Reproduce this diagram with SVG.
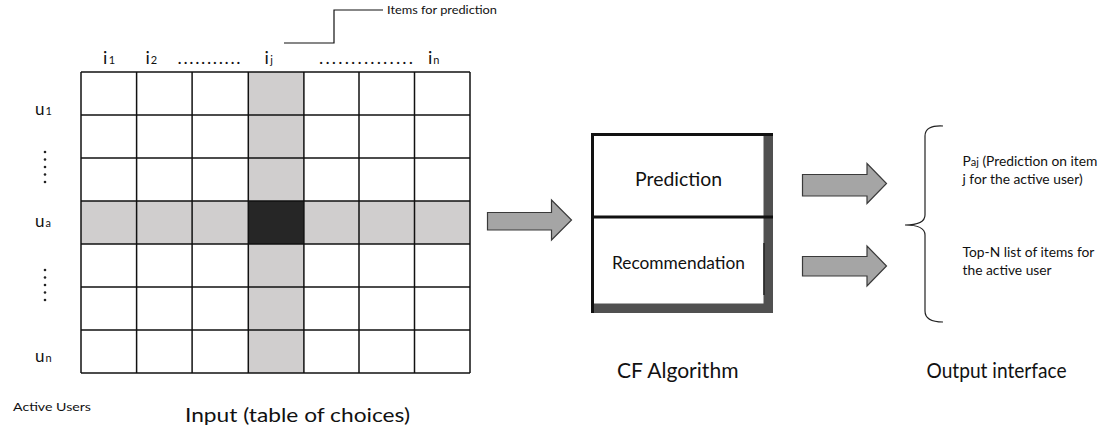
<svg xmlns="http://www.w3.org/2000/svg" width="1104" height="430" viewBox="0 0 1104 430">
<style>
text{font-family:Lato,"Liberation Sans",Arial,sans-serif;fill:#111}
.hl{fill:#d0cece}
.dk{fill:#262626}
.arrow{fill:#a5a5a5;stroke:#3a3a3a;stroke-width:1.2}
.dot{fill:#222}
.hdr{font-size:18px}
.sub{font-size:11px}
.row{font-size:17px}
.small{font-size:13.8px}
</style>
<defs>
<g id="vdots"><circle cx="0" cy="0" r="1.3" class="dot"/><circle cx="0" cy="7.5" r="1.3" class="dot"/><circle cx="0" cy="15" r="1.3" class="dot"/><circle cx="0" cy="22.5" r="1.3" class="dot"/><circle cx="0" cy="30" r="1.3" class="dot"/></g>
</defs>
<g id="matrix">
<rect x="81" y="72" width="389" height="301" fill="#fff"/>
<rect class="hl" x="248.3" y="72" width="55.6" height="301"/>
<rect class="hl" x="81" y="201" width="389" height="43"/>
<rect class="dk" x="248.3" y="201" width="55.6" height="43"/>
<g stroke="#111" stroke-width="1.5">
<line x1="81" y1="72" x2="81" y2="373"/><line x1="136.6" y1="72" x2="136.6" y2="373"/><line x1="192.1" y1="72" x2="192.1" y2="373"/><line x1="248.3" y1="72" x2="248.3" y2="373"/><line x1="303.9" y1="72" x2="303.9" y2="373"/><line x1="359" y1="72" x2="359" y2="373"/><line x1="414.5" y1="72" x2="414.5" y2="373"/><line x1="470" y1="72" x2="470" y2="373"/>
<line x1="81" y1="72" x2="470" y2="72"/><line x1="81" y1="115" x2="470" y2="115"/><line x1="81" y1="158" x2="470" y2="158"/><line x1="81" y1="201" x2="470" y2="201"/><line x1="81" y1="244" x2="470" y2="244"/><line x1="81" y1="287" x2="470" y2="287"/><line x1="81" y1="330" x2="470" y2="330"/><line x1="81" y1="373" x2="470" y2="373"/>
</g>
</g>
<g id="headers">
<text class="hdr" x="103" y="64">i<tspan class="sub" dx="1.5">1</tspan></text>
<text class="hdr" x="145.5" y="64">i<tspan class="sub" dx="1">2</tspan></text>
<text class="hdr" x="177.5" y="64" textLength="63" lengthAdjust="spacing">...........</text>
<text class="hdr" x="264.5" y="64">i<tspan class="sub" dx="1.5">j</tspan></text>
<text class="hdr" x="319" y="64" textLength="94" lengthAdjust="spacing">...............</text>
<text class="hdr" x="428" y="64">i<tspan class="sub" dx="1">n</tspan></text>
</g>
<g id="row-labels">
<text class="row" x="35" y="115">u<tspan class="sub" dx="1">1</tspan></text>
<use href="#vdots" x="45" y="152"/>
<text class="row" x="35" y="227">u<tspan class="sub" dx="1">a</tspan></text>
<use href="#vdots" x="45" y="270"/>
<text class="row" x="35" y="362">u<tspan class="sub" dx="1">n</tspan></text>
<text x="13" y="411" font-size="11" textLength="78" lengthAdjust="spacingAndGlyphs">Active Users</text>
<text x="185" y="422" font-size="18.5" textLength="225" lengthAdjust="spacingAndGlyphs">Input (table of choices)</text>
</g>
<g id="items-label">
<text x="387" y="14" font-size="11" textLength="110" lengthAdjust="spacingAndGlyphs">Items for prediction</text>
</g>
<g id="cf-algorithm">
<rect x="591" y="133" width="182" height="180" fill="#505050"/>
<rect x="593.5" y="135.5" width="170" height="168" fill="#fff"/>
<line x1="591" y1="134.5" x2="773" y2="134.5" stroke="#111" stroke-width="3"/>
<line x1="592.5" y1="133" x2="592.5" y2="313" stroke="#111" stroke-width="3"/>
<line x1="591" y1="217" x2="773" y2="217" stroke="#111" stroke-width="3"/>
<line x1="764" y1="243" x2="764" y2="295" stroke="#222" stroke-width="1.5"/>
<text x="635" y="186" font-size="19.5" textLength="87" lengthAdjust="spacingAndGlyphs">Prediction</text>
<text x="612" y="269" font-size="16.5" textLength="133" lengthAdjust="spacingAndGlyphs">Recommendation</text>
<text x="617" y="378" font-size="21" textLength="121.5" lengthAdjust="spacingAndGlyphs">CF Algorithm</text>
</g>
<g id="output-interface">
<text class="small" x="962.5" y="166">P<tspan font-size="11">aj</tspan> (Prediction on item</text>
<text class="small" x="962.5" y="184">j for the active user)</text>
<text class="small" x="962.5" y="257">Top-N list of items for</text>
<text class="small" x="962.5" y="275">the active user</text>
<path d="M943 126 Q925 125 925 136 L925 215 Q925 225 905 225 Q925 225 925 235 L925 311 Q925 322 943 322" fill="none" stroke="#222" stroke-width="1.2"/>
<text x="926.5" y="378" font-size="21" textLength="140" lengthAdjust="spacingAndGlyphs">Output interface</text>
</g>
<g id="connectors">
<polyline points="284,43 334,43 334,10 383,10" fill="none" stroke="#111" stroke-width="1.2"/>
<path class="arrow" d="M487.5 212.5 H551.5 V200 L571.5 220 L551.5 240 V230 H487.5 Z"/>
<path class="arrow" d="M802.5 174.5 H867 V163.5 L886.5 183.5 L867 203.5 V196 H802.5 Z"/>
<path class="arrow" d="M802.5 256.5 H867 V246 L886.5 266 L867 286 V276 H802.5 Z"/>
</g>
</svg>
